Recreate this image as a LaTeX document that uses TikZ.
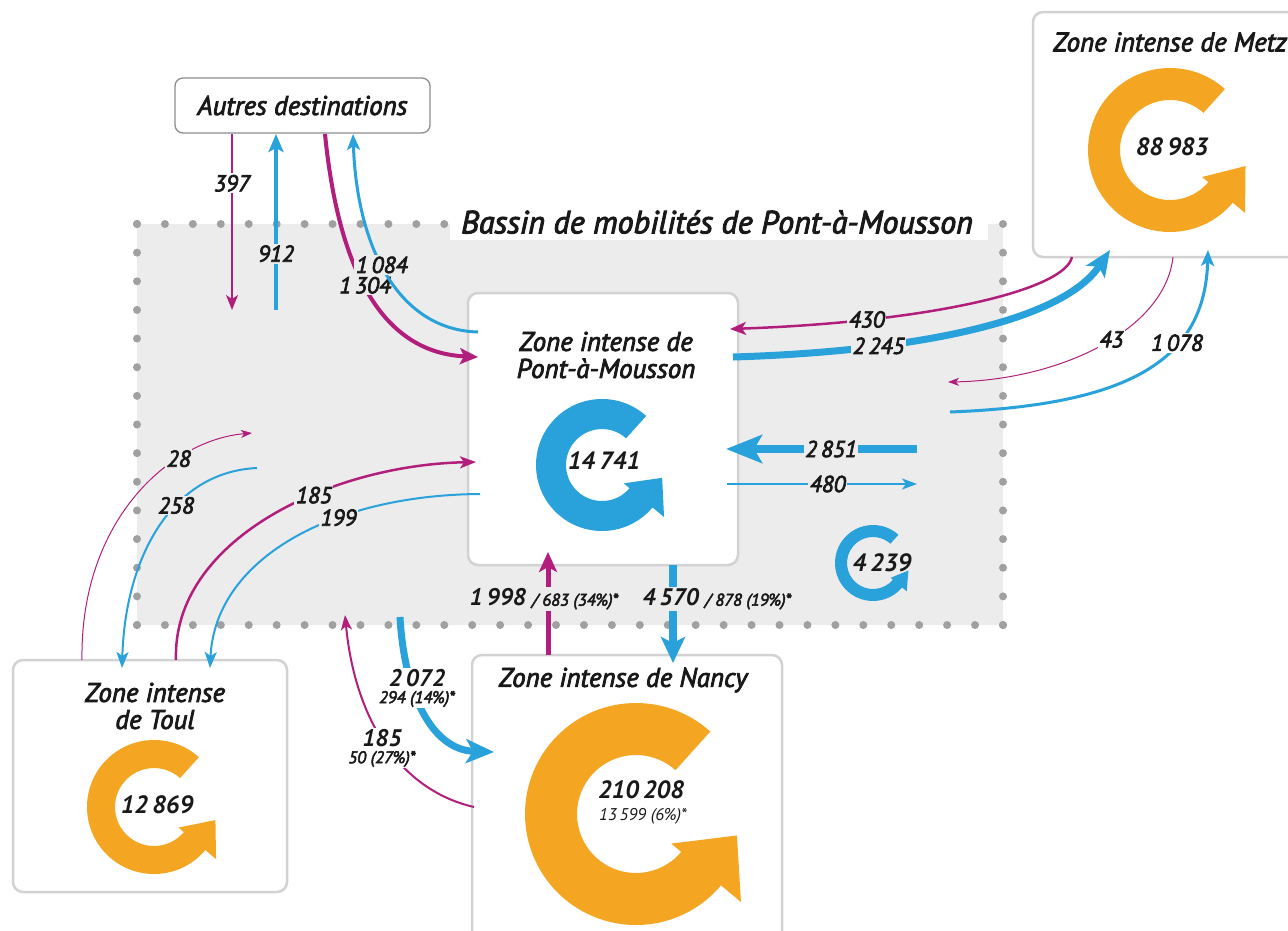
\documentclass[tikz,border=0pt]{standalone}
\usepackage{fontspec}
\setmainfont{PT Sans}
\newfontfamily\semifam{PT Sans}[ItalicFeatures={FakeBold=3}]
\usetikzlibrary{arrows.meta,calc}
\definecolor{cblue}{RGB}{41,161,218}
\definecolor{cmag}{RGB}{178,30,123}
\definecolor{corange}{RGB}{244,166,35}
\definecolor{cgraybg}{RGB}{236,236,236}
\definecolor{cdot}{RGB}{160,160,160}
\definecolor{cbox}{RGB}{210,210,210}
\definecolor{ctext}{RGB}{25,25,25}
% G-shaped cycle: cx cy R t colour
\newcommand\gcyc[5]{%
  \fill[#5] (#1,#2) ++(-48:#3) arc[start angle=-48, end angle=-320, radius=#3]
    -- ($(#1,#2)+(-320:{#3+0.5*#4})$)
    -- ($(#1,#2)+(-348:{#3-0.15*#4})$)
    -- ($(#1,#2)+(-320:{#3-1.25*#4})$)
    -- ($(#1,#2)+(-320:{#3-#4})$)
    arc[start angle=-320, end angle=-48, radius={#3-#4}] -- cycle;}
\newcommand\zf{\fontsize{27}{27}\selectfont\semifam\itshape}
\newcommand\nf{\fontsize{25}{26}\selectfont\bfseries\itshape}
\newcommand\ef{\fontsize{23}{24}\selectfont\semifam\itshape}
\newcommand\bef{\fontsize{24}{25}\selectfont\bfseries\itshape}
\newcommand\sfnt{\fontsize{17}{18}\selectfont\itshape}
\tikzset{
  zbox/.style={draw=cbox, line width=2.5pt, fill=white, rounded corners=10pt, inner sep=0pt},
  abox/.style={draw=black!45, line width=1.3pt, fill=white, rounded corners=8pt, inner sep=0pt,
     minimum width=255pt, minimum height=55pt, font=\zf, text=ctext},
  ztxt/.style={font=\zf, text=ctext, align=center, inner sep=0pt},
  gnum/.style={font=\nf, text=ctext, align=center, inner sep=0pt},
  lblg/.style={font=\ef, text=ctext, fill=cgraybg, inner sep=1.5pt, align=center},
  lblw/.style={font=\ef, text=ctext, fill=white, inner sep=1.5pt, align=center},
  bl/.style={draw=cblue, line width=#1},
  ml/.style={draw=cmag, line width=#1},
  ah/.style n args={3}{-{Stealth[length=#1pt, width=#2pt, inset=#3pt]}}
}
\begin{document}
\begin{tikzpicture}[x=1pt, y=-1pt]
\useasboundingbox (0,0) rectangle (1288,930);
\fill[white] (0,0) rectangle (1288,930);
% basin region
\fill[cgraybg] (137,224) rectangle (1003,625);
\foreach \i in {0,...,14} {
  \fill[cdot] (137,{224+\i*28.643}) circle (4);
  \fill[cdot] (1003,{224+\i*28.643}) circle (4);}
\foreach \i in {0,...,31} \fill[cdot] ({137+\i*27.935},625) circle (4);
\foreach \i in {0,...,11} \fill[cdot] ({137+\i*27.935},224) circle (4);
\fill[white] (450,195) rectangle (988,240);
\node[font=\fontsize{32}{32}\selectfont\semifam\itshape, text=ctext, inner sep=0pt] (ttl) at (717,222) {Bassin de mobilités de Pont-à-Mousson};

% boxes
\node[abox] (autres) at (302.5,105.5) {Autres destinations};
\node[zbox, minimum width=270pt, minimum height=272pt] (pam) at (603,429) {};
\node[zbox, minimum width=267pt, minimum height=245pt] (metz) at (1166.5,134.5) {};
\node[zbox, minimum width=274pt, minimum height=232pt] (toul) at (150,776) {};
\node[zbox, minimum width=310pt, minimum height=290pt] (nancy) at (627,800) {};

% zone titles
\node[ztxt] (tpam) at (606,355) {Zone intense de\\Pont-à-Mousson};
\node[ztxt] (tmetz) at (1170,42) {Zone intense de Metz};
\node[ztxt] (ttoul) at (155,706) {Zone intense\\de Toul};
\node[ztxt] (tnancy) at (623,680) {Zone intense de Nancy};

% cycles
\gcyc{602}{465}{66}{30}{cblue}
\gcyc{1170}{150}{82}{32}{corange}
\gcyc{154}{807}{67}{28}{corange}
\gcyc{636}{814}{111}{52}{corange}
\gcyc{873}{563}{38}{12}{cblue}
\node[gnum] (npam) at (604,461) {14\,741};
\node[gnum] (nmetz) at (1172,147) {88\,983};
\node[gnum] (ntoul) at (157,805) {12\,869};
\node[gnum] (nnancy) at (641,790) {210\,208};
\node[font=\sfnt, text=ctext, inner sep=0pt] (nnancy2) at (643,816) {13\,599 (6\%)*};
\node[gnum] (nloc) at (882,563) {4\,239};

% attachment points
\coordinate (p397a) at (232,134);   \coordinate (p397b) at (232,310);
\coordinate (p912a) at (276,310);   \coordinate (p912b) at (276,134);
\coordinate (p1304a) at (325,134);  \coordinate (p1304b) at (478,357);
\coordinate (p1084a) at (478,332);  \coordinate (p1084b) at (353,134);
\coordinate (p430a) at (1072,257);  \coordinate (p430b) at (730,329);
\coordinate (p2245a) at (733,357);  \coordinate (p2245b) at (1110,250);
\coordinate (p43a) at (1173,257);   \coordinate (p43b) at (948,382);
\coordinate (p1078a) at (950,412);  \coordinate (p1078b) at (1208,250);
\coordinate (p2851a) at (917,449);  \coordinate (p2851b) at (726,449);
\coordinate (p480a) at (727,484);   \coordinate (p480b) at (917,484);
\coordinate (p28a) at (82,660);     \coordinate (p28b) at (252,433);
\coordinate (p258a) at (257,468);   \coordinate (p258b) at (122,668);
\coordinate (p185a) at (176,660);   \coordinate (p185b) at (476,462);
\coordinate (p199a) at (480,494);   \coordinate (p199b) at (210,668);
\coordinate (p1998a) at (548,655);  \coordinate (p1998b) at (548,552);
\coordinate (p4570a) at (673,565);  \coordinate (p4570b) at (673,663);
\coordinate (p2072a) at (400,617);  \coordinate (p2072b) at (494,752);
\coordinate (p185ba) at (474,807);  \coordinate (p185bb) at (345,615);

% connectors
\draw[ml=2pt, ah={15}{12}{4}] (p397a) -- node[lblw, pos=0.28] (l397) {397} (p397b);
\draw[bl=4pt, ah={18}{15}{4}] (p912a) -- node[lblg, pos=0.32] (l912) {912} (p912b);
\draw[ml=4pt, ah={18}{16}{4}] (p1304a) .. controls (336,245) and (370,352) .. node[lblg, pos=0.5] (l1304) {1\,304} (p1304b);
\draw[bl=3pt, ah={16}{13}{4}] (p1084a) .. controls (400,330) and (357,250) .. node[lblg, pos=0.55] (l1084) {1\,084} (p1084b);
\draw[ml=2.5pt, ah={16}{13}{4}] (p430a) .. controls (1065,290) and (930,322) .. node[lblg, pos=0.75] (l430) {430} (p430b);
\draw[bl=7pt, ah={26}{22}{6}] (p2245a) .. controls (900,352) and (1060,325) .. node[lblg, pos=0.3] (l2245) {2\,245} (p2245b);
\draw[ml=1pt, ah={11}{8}{3}] (p43a) .. controls (1165,330) and (1060,380) .. node[lblw, pos=0.45] (l43) {43} (p43b);
\draw[bl=3pt, ah={16}{13}{4}] (p1078a) .. controls (1130,405) and (1205,360) .. node[lblw, pos=0.65] (l1078) {1\,078} (p1078b);
\draw[bl=8pt, ah={36}{28}{8}] (p2851a) -- node[lblg, pos=0.45] (l2851) {2\,851} (p2851b);
\draw[bl=2pt, ah={15}{11}{4}] (p480a) -- node[lblg, pos=0.53] (l480) {480} (p480b);
\draw[ml=1pt, ah={11}{8}{3}] (p28a) .. controls (80,520) and (170,440) .. node[lblg, pos=0.7] (l28) {28} (p28b);
\draw[bl=2pt, ah={16}{12}{4}] (p258a) .. controls (170,472) and (125,560) .. node[lblg, pos=0.38] (l258) {258} (p258b);
\draw[ml=2.5pt, ah={16}{12}{4}] (p185a) .. controls (172,540) and (330,465) .. node[lblg, pos=0.62] (l185) {185} (p185b);
\draw[bl=2pt, ah={16}{12}{4}] (p199a) .. controls (330,495) and (215,560) .. node[lblg, pos=0.35] (l199) {199} (p199b);
\draw[ml=5pt, ah={20}{18}{5}] (p1998a) -- (p1998b);
\draw[bl=8pt, ah={26}{24}{6}] (p4570a) -- (p4570b);
\draw[bl=7pt, ah={28}{24}{7}] (p2072a) .. controls (404,690) and (430,750) .. (p2072b);
\draw[ml=2pt, ah={15}{11}{4}] (p185ba) .. controls (400,790) and (355,720) .. (p185bb);

% labels of the Nancy flows
\node[lblg, inner sep=2pt] (l1998) at (544,599) {{\bef 1\,998} {\sfnt / 683 (34\%)*}};
\node[lblg, inner sep=2pt] (l4570) at (717,599) {{\bef 4\,570} {\sfnt / 878 (19\%)*}};
\node[lblw, inner sep=1pt] (l2072) at (417,688) {{\bef 2\,072}\\[-7pt]{\sfnt 294 (14\%)*}};
\node[lblw, inner sep=1pt] (l185b) at (382,748) {{\bef 185}\\[-7pt]{\sfnt 50 (27\%)*}};
\end{tikzpicture}
\end{document}
